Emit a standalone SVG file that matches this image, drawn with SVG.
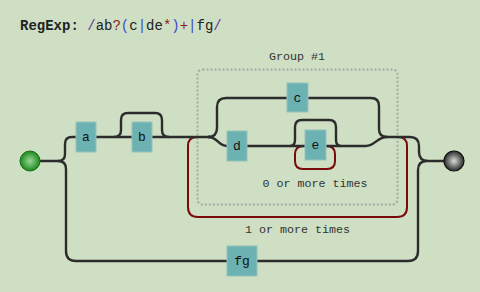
<svg xmlns="http://www.w3.org/2000/svg" width="480" height="292" viewBox="0 0 480 292">
  <style>
    .line { fill: none; stroke: #2c2c2c; stroke-width: 2.4; }
    .loop { fill: none; stroke: #7a0a0a; stroke-width: 2; }
    .group { fill: none; stroke: #a4aaa2; stroke-width: 2; stroke-dasharray: 2 2; }
    .box { fill: #6cb2b2; stroke: #98c2ba; stroke-width: 1; }
    .lbl { font-family: "Liberation Mono", "DejaVu Sans Mono", monospace; font-size: 13px; fill: #111; text-anchor: middle; }
    .note { font-family: "Liberation Mono", "DejaVu Sans Mono", monospace; font-size: 11.7px; fill: #333; text-anchor: middle; }
    .title { font-family: "Liberation Mono", "DejaVu Sans Mono", monospace; font-size: 14px; fill: #222; }
  </style>
  <defs>
    <radialGradient id="startFill" cx="0.5" cy="0.5" r="0.5">
      <stop offset="0" stop-color="#9ad69a"/>
      <stop offset="1" stop-color="#1c8a1c"/>
    </radialGradient>
    <radialGradient id="endFill" cx="0.5" cy="0.5" r="0.5">
      <stop offset="0" stop-color="#d8dcd8"/>
      <stop offset="1" stop-color="#2a2a2a"/>
    </radialGradient>
  </defs>

  <rect width="480" height="292" fill="#cfdfc4"/>

  <!-- title -->
  <text class="title" x="20" y="30"><tspan font-weight="bold">RegExp:</tspan> <tspan fill="#6a3a9a">/</tspan>ab<tspan fill="#8a1c1c">?</tspan><tspan fill="#3a4ad0">(</tspan>c<tspan fill="#3a4ad0">|</tspan>de<tspan fill="#8a1c1c">*</tspan><tspan fill="#3a4ad0">)</tspan><tspan fill="#8a1c1c">+</tspan><tspan fill="#3a4ad0">|</tspan>fg<tspan fill="#6a3a9a">/</tspan></text>

  <!-- group frame -->
  <g id="group1">
    <rect class="group" x="197.5" y="69.5" width="200" height="135" rx="5"/>
    <text class="note" x="297" y="60">Group #1</text>
  </g>

  <!-- connectors -->
  <g id="connectors">
    <!-- repeat loops -->
    <path class="loop" d="M398,137 q9,0 9,9 V207 q0,10 -10,10 H198 q-10,0 -10,-10 V146 q0,-9 9,-9"/>
    <path class="loop" d="M326,146 q9,0 9,8 V161 q0,8 -8,8 H303 q-8,0 -8,-8 V154 q0,-8 9,-8"/>
    <!-- start split -->
    <path class="line" d="M40,161 H58 q7,0 7,-7 V144 q0,-7 7,-7 H76"/>
    <path class="line" d="M58,161 q8,0 8,8 V251 q0,10 10,10 H227"/>
    <!-- a, b and the skip over b -->
    <path class="line" d="M96,137 H132"/>
    <path class="line" d="M152,137 H210"/>
    <path class="line" d="M114,137 q7,0 7,-7 v-10 q0,-7 7,-7 h27 q7,0 7,7 v10 q0,7 7,7"/>
    <!-- alternation inside the group -->
    <path class="line" d="M208,137 q9,0 9,-9 V107 q0,-9 9,-9 H287"/>
    <path class="line" d="M208,137 C218,137 218,146 227,146"/>
    <path class="line" d="M247,146 H305"/>
    <path class="line" d="M290,146 q5,0 5,-6 V127 q0,-7 7,-7 H329 q7,0 7,7 V140 q0,6 5,6"/>
    <path class="line" d="M326,146 H366 C375,146 377,137 387,137"/>
    <path class="line" d="M308,98 H371 q8,0 8,8 V129 q0,8 8,8"/>
    <!-- end merge -->
    <path class="line" d="M386,137 H410 q9,0 9,9 V152 q0,9 9,9 H444"/>
    <path class="line" d="M257,261 H408 q10,0 10,-10 V170 q0,-9 9,-9"/>
  </g>

  <!-- terminals -->
  <g id="start"><circle cx="30" cy="161" r="10" fill="url(#startFill)" stroke="#1a6a1a" stroke-width="1"/></g>
  <g id="end"><circle cx="454" cy="161" r="10" fill="url(#endFill)" stroke="#111" stroke-width="1.2"/></g>

  <!-- literal nodes -->
  <g id="node-a"><rect class="box" x="76" y="122" width="20" height="30"/><text class="lbl" x="86" y="141">a</text></g>
  <g id="node-b"><rect class="box" x="132" y="122" width="20" height="30"/><text class="lbl" x="142" y="141">b</text></g>
  <g id="node-c"><rect class="box" x="287" y="83" width="21" height="29"/><text class="lbl" x="297.5" y="101.5">c</text></g>
  <g id="node-d"><rect class="box" x="227" y="131" width="20" height="30"/><text class="lbl" x="237" y="150">d</text></g>
  <g id="node-e"><rect class="box" x="305" y="130" width="21" height="30"/><text class="lbl" x="315.5" y="149">e</text></g>
  <g id="node-fg"><rect class="box" x="227" y="246" width="30" height="30"/><text class="lbl" x="242" y="265">fg</text></g>

  <!-- repeat labels -->
  <text class="note" x="315" y="187">0 or more times</text>
  <text class="note" x="297.5" y="233">1 or more times</text>
</svg>
